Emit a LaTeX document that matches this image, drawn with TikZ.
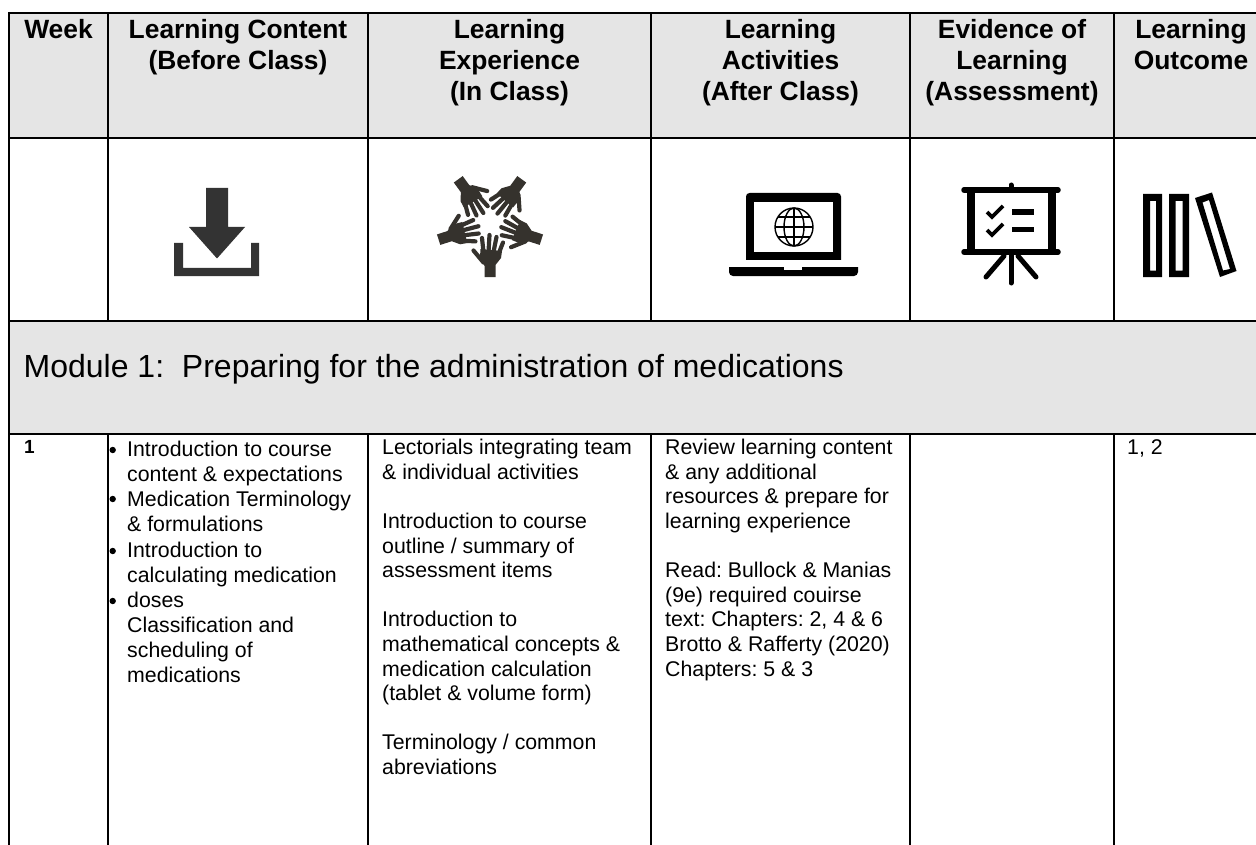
\documentclass[tikz,border=0pt]{standalone}
\usepackage{fontspec}
\setmainfont{Liberation Sans}
\tikzset{
 gridline/.style={line width=2pt,black},
 head/.style={anchor=north,align=center,inner sep=0pt,font=\fontsize{26.4}{31}\selectfont\bfseries},
 body/.style={anchor=north west,align=left,inner sep=0pt,font=\fontsize{21.3}{24.6}\selectfont},
 bodywide/.style={anchor=north west,align=left,inner sep=0pt,font=\fontsize{21.3}{25.1}\selectfont},
 num/.style={anchor=north west,align=left,inner sep=0pt,font=\fontsize{19}{24}\selectfont\bfseries},
 bulletdot/.style={fill=black,draw=none},
 finger/.style={draw=handcol,line width=4.2pt,line cap=round},
}
\definecolor{handcol}{HTML}{35322D}
\definecolor{dlcol}{HTML}{333333}
\definecolor{hdrgray}{HTML}{E5E5E5}
\newcommand{\handshape}{%
  \fill[handcol] (-5.5,54) -- (5.5,54) -- (5.5,42) -- (11,35) -- (12,28) -- (-9.5,26) -- (-10,34) -- (-5.5,43) -- cycle;
  \draw[finger] (-6.5,29) -- (-8,15);
  \draw[finger] (-1.5,29) -- (-0.5,12);
  \draw[finger] (3.5,29) -- (6.5,14);
  \draw[finger] (8.5,31) -- (13,19.5);
  \draw[finger] (-6.5,39.5) -- (-16.5,27.5);
}
\begin{document}
\frenchspacing
\begin{tikzpicture}[x=1pt,y=-1pt]
\useasboundingbox (0,0) rectangle (1256,845);
\fill[white] (0,0) rectangle (1256,845);
\fill[hdrgray] (9,13) rectangle (1256,138.5);
\fill[hdrgray] (9,320.5) rectangle (1256,433.5);
\draw[gridline] (9,13) -- (1256,13);
\draw[gridline] (9,138.5) -- (1256,138.5);
\draw[gridline] (9,320.5) -- (1256,320.5);
\draw[gridline] (9,433.5) -- (1256,433.5);
\draw[gridline] (9,12) -- (9,845);
\foreach \cx in {108,368,651,910,1114}{
  \draw[gridline] (\cx,13) -- (\cx,320.5);
  \draw[gridline] (\cx,433.5) -- (\cx,845);
}
\node[head] (hweek) at (58.5,19.5) {Week};
\node[head] (hcontent) at (238,19.5) {Learning Content\\(Before Class)};
\node[head] (hexp) at (509.5,19.5) {Learning\\Experience\\(In Class)};
\node[head] (hact) at (780.5,19.5) {Learning\\Activities\\(After Class)};
\node[head] (hevid) at (1012,19.5) {Evidence of\\Learning\\(Assessment)};
\node[head] (hout) at (1191,19.5) {Learning\\Outcome};
\node[anchor=base west,inner sep=0pt,font=\fontsize{32}{36}\selectfont] (module) at (23.5,377) {Module 1:\ \ Preparing for the administration of medications};
\node[num] (wk) at (24,440) {1};
\node[bodywide] (cbody) at (127,441) {Introduction to course\\content \& expectations\\Medication Terminology\\\& formulations\\Introduction to\\calculating medication\\doses\\Classification and\\scheduling of\\medications};
\foreach \by in {450,499,551,601}{\fill[bulletdot] (112.7,\by) circle (3.2pt);}
\node[body] (ebody) at (382,439) {Lectorials integrating team\\\& individual activities\\[24.6pt]Introduction to course\\outline / summary of\\assessment items\\[24.6pt]Introduction to\\mathematical concepts \&\\medication calculation\\(tablet \& volume form)\\[24.6pt]Terminology / common\\abreviations};
\node[body] (abody) at (665,439) {Review learning content\\\& any additional\\resources \& prepare for\\learning experience\\[24.6pt]Read: Bullock \& Manias\\(9e) required couirse\\text: Chapters: 2, 4 \& 6\\Brotto \& Rafferty (2020)\\Chapters: 5 \& 3};
\node[body] (obody) at (1127,439) {1, 2};
% download icon
\fill[dlcol] (206,188) -- (228,188) -- (228,227) -- (245,227) -- (217,258.5) -- (189,227) -- (206,227) -- cycle;
\fill[dlcol] (174,243) -- (183,243) -- (183,268) -- (251,268) -- (251,243) -- (259,243) -- (259,276) -- (174,276) -- cycle;
% hands icon
\begin{scope}[shift={(490,223)}]
 \foreach \a in {0,72,144,216,288}{
   \begin{scope}[rotate=\a]\handshape\end{scope}
 }
\end{scope}
% laptop icon
\fill[black,rounded corners=3.5pt] (746,270) -- (746,193) -- (841,193) -- (841,270) -- cycle;
\fill[white] (740,261) rectangle (848,266.9);
\fill[white] (754,202.5) rectangle (833,252);
\fill[black,rounded corners=4pt] (729,263) -- (858,263) -- (858,276) -- (729,276) -- cycle;
\fill[white] (725,260) rectangle (862,267);
\fill[black] (729,267) rectangle (858,272);
\fill[white] (784,267) rectangle (802,270.5);
\begin{scope}[line width=1.4pt]
 \draw (794,227) circle (19);
 \draw (794,227) ellipse (10 and 19);
 \draw (794,208) -- (794,246);
 \draw (775,227) -- (813,227);
 \draw (778,217) -- (810,217);
 \draw (778,237) -- (810,237);
\end{scope}
% presentation icon
\begin{scope}[line cap=round]
 \draw[line width=5.5pt] (964,190) -- (1058,190);
 \draw[line width=5.5pt] (964,252) -- (1058,252);
 \draw[line width=5pt] (1011,185) -- (1011,190);
 \draw[line width=8pt,line cap=butt] (971,190) -- (971,252);
 \draw[line width=8pt,line cap=butt] (1052,190) -- (1052,252);
 \draw[line width=5pt] (1011,254) -- (1011,283);
 \draw[line width=5pt] (1004,256) -- (986,277);
 \draw[line width=5pt] (1018,256) -- (1036,277);
 \draw[line width=3.8pt,line cap=butt] (987,212) -- (992,217) -- (1003,206);
 \draw[line width=3.8pt,line cap=butt] (987,230) -- (992,235) -- (1003,224);
 \fill (1012,209.5) rectangle (1034,215);
 \fill (1012,227) rectangle (1034,232.5);
\end{scope}
% books icon
\fill[black,even odd rule] (1143,194) rectangle (1162,277) (1150,201) rectangle (1156,270.6);
\fill[black,even odd rule] (1169,194) rectangle (1189,277) (1175.5,201) rectangle (1182.6,270.6);
\fill[black,even odd rule] (1195,198) -- (1212,192.5) -- (1236.5,271) -- (1220,277) -- cycle (1202.5,202.5) -- (1209,200) -- (1230,269) -- (1223,270.5) -- cycle;
\end{tikzpicture}
\end{document}
